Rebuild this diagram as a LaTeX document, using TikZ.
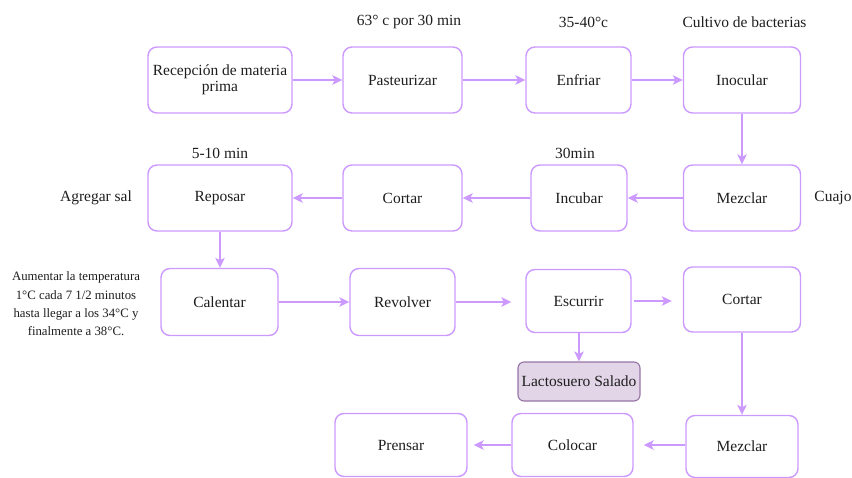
\documentclass[tikz,border=0pt]{standalone}
\usepackage{fontspec}
\setmainfont{Liberation Serif}
\usetikzlibrary{arrows.meta}
\definecolor{lila}{RGB}{204,153,255}
\definecolor{txt}{RGB}{30,30,30}
\definecolor{wheyfill}{HTML}{E1D5E7}
\definecolor{wheydraw}{HTML}{9673A6}
\tikzset{
  stepbox/.style={draw=lila, line width=1.4pt, rounded corners=9pt, fill=white,
    align=center, text=txt, inner sep=2pt,
    font=\fontsize{15.5}{16.5}\selectfont},
  wheybox/.style={draw=wheydraw, fill=wheyfill, line width=1.1pt, rounded corners=6pt,
    align=center, text=txt, inner sep=1pt,
    font=\fontsize{15.5}{16.5}\selectfont},
  note/.style={text=txt, align=center, inner sep=0pt,
    font=\fontsize{15.5}{16.5}\selectfont},
  smallnote/.style={text=txt, align=center, inner sep=0pt,
    font=\fontsize{12.8}{18.3}\selectfont},
  flow/.style={draw=lila, line width=1.5pt,
    -{Stealth[length=10pt, width=9.5pt, inset=2.5pt]}},
}
\begin{document}
\begin{tikzpicture}[x=1pt, y=-1pt]
\useasboundingbox (0,0) rectangle (852,477);

% row 1
\node[stepbox, minimum width=144pt, minimum height=66pt] (rec)   at (220,80)    {Recepción de materia\\prima};
\node[stepbox, minimum width=119pt, minimum height=66pt] (past)  at (402.5,80)  {Pasteurizar};
\node[stepbox, minimum width=105pt, minimum height=66pt] (enf)   at (578.5,80)  {Enfriar};
\node[stepbox, minimum width=117pt, minimum height=66pt] (ino)   at (742,80)    {Inocular};

% row 2
\node[stepbox, minimum width=144pt, minimum height=66pt] (rep)   at (220,198)   {Reposar};
\node[stepbox, minimum width=119pt, minimum height=66pt] (cort1) at (402.5,198) {Cortar};
\node[stepbox, minimum width=96pt,  minimum height=66pt] (inc)   at (579,198)   {Incubar};
\node[stepbox, minimum width=117pt, minimum height=66pt] (mez1)  at (742,198)   {Mezclar};

% row 3
\node[stepbox, minimum width=117pt, minimum height=67pt] (cal)   at (219.5,302) {Calentar};
\node[stepbox, minimum width=105pt, minimum height=67pt] (rev)   at (402.5,302) {Revolver};
\node[stepbox, minimum width=105pt, minimum height=63pt] (esc)   at (578.5,301) {Escurrir};
\node[stepbox, minimum width=117pt, minimum height=65pt] (cort2) at (742,299.5) {Cortar};
\node[wheybox, minimum width=122pt, minimum height=39pt] (lac)   at (579,381.5) {Lactosuero Salado};

% row 4
\node[stepbox, minimum width=132pt, minimum height=63pt] (pren)  at (401,445)   {Prensar};
\node[stepbox, minimum width=121pt, minimum height=63pt] (col)   at (572.5,445) {Colocar};
\node[stepbox, minimum width=112pt, minimum height=62pt] (mez2)  at (742,446.5) {Mezclar};

% annotations
\node[note] (n1) at (409,22)   {63° c por 30 min};
\node[note] (n2) at (583.5,22) {35-40°c};
\node[note] (n3) at (744.5,22) {Cultivo de bacterias};
\node[note] (n4) at (220,153)  {5-10 min};
\node[note] (n5) at (575,153)  {30min};
\node[note] (n6) at (96,198)   {Agregar sal};
\node[note] (n7) at (833,198)  {Cuajo};
\node[smallnote] (n8) at (76,304) {Aumentar la temperatura\\1°C cada 7 1/2 minutos\\hasta llegar a los 34°C y\\finalmente a 38°C.};

% connectors
\draw[flow] (rec) -- (past);
\draw[flow] (past) -- (enf);
\draw[flow] (enf) -- (ino);
\draw[flow] (ino) -- (mez1);
\draw[flow] (mez1) -- (inc);
\draw[flow] (inc) -- (cort1);
\draw[flow] (cort1) -- (rep);
\draw[flow] (rep) -- (rep |- cal.north);
\draw[flow] (cal) -- (rev);
\draw[flow, shorten >=14pt] (rev.east) -- (rev.east -| esc.west);
\draw[flow, shorten <=2pt, shorten >=11pt] (esc.east) -- (esc.east -| cort2.west);
\draw[flow] (esc.south -| lac.north) -- (lac.north);
\draw[flow] (cort2.south) -- (cort2.south |- mez2.north);
\draw[flow, shorten >=10pt] (mez2.west |- col.east) -- (col.east);
\draw[flow, shorten >=6pt] (col.west) -- (pren.east);
\end{tikzpicture}
\end{document}
